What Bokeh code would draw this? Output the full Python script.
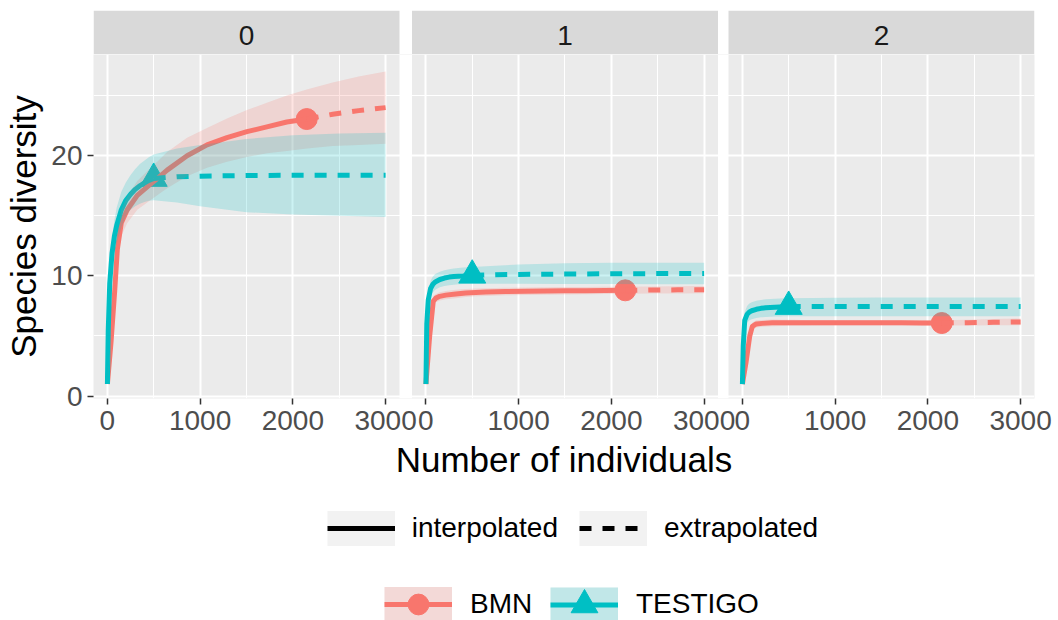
from bokeh.plotting import figure
from bokeh.models import Range1d, FixedTicker, BoxAnnotation, Label, Legend, LegendItem
from bokeh.layouts import column
from bokeh.embed import file_html
from bokeh.resources import INLINE

FONT = "Liberation Sans"
RED = "#F8766D"
TEAL = "#00BFC4"

# ---------------- data ----------------
panel_labels = ["0", "1", "2"]
site_names = ["BMN", "TESTIGO"]
x_tick_values = [0, 1000, 2000, 3000]
x_minor_values = [500, 1500, 2500]
y_tick_values = [0, 10, 20]
y_minor_values = [5, 15, 25]
legend_line_labels = ["interpolated", "extrapolated"]
x_title = "Number of individuals"
y_title = "Species diversity"

bmn_m_int = [1, 40, 80, 108, 150, 215, 323, 430, 538, 645, 860, 1075, 1290, 1505, 1720, 1935, 2150]
bmn_m_ext = [2150, 2430, 2710, 3000]
tes_m_int = [1, 10, 26, 51, 76, 101, 151, 201, 251, 301, 351, 401, 451, 500]
tes_m_ext = [500, 750, 1000, 1500, 2000, 2500, 3000]

bmn_q0_int = [1.0, 4.5, 8.8, 12.2, 14.4, 15.5, 16.7, 17.4, 18.1, 18.8, 20.0, 20.9, 21.5, 22.0, 22.4, 22.8, 23.05]
bmn_q0_ext = [23.05, 23.45, 23.75, 24.0]
bmn_q0_lo = [1.0, 4.1, 8.1, 11.2, 13.3, 14.4, 15.5, 16.1, 16.7, 17.3, 18.3, 19.0, 19.5, 19.9, 20.2, 20.4, 20.6, 20.8, 20.9, 21.0]
bmn_q0_hi = [1.0, 4.9, 9.5, 13.2, 15.5, 16.6, 17.9, 18.7, 19.5, 20.3, 21.5, 22.3, 23.1, 23.8, 24.4, 25.0, 25.5, 26.1, 26.6, 27.0]

bmn_q1_int = [1.0, 4.9, 7.9, 8.15, 8.3, 8.4, 8.5, 8.58, 8.62, 8.66, 8.7, 8.73, 8.75, 8.76, 8.77, 8.79, 8.8]
bmn_q1_ext = [8.8, 8.82, 8.84, 8.85]
bmn_q1_lo = [1.0, 4.6, 7.5, 7.8, 7.95, 8.05, 8.15, 8.25, 8.3, 8.33, 8.38, 8.41, 8.44, 8.46, 8.48, 8.5, 8.52, 8.53, 8.54, 8.55]
bmn_q1_hi = [1.0, 5.2, 8.3, 8.5, 8.65, 8.75, 8.85, 8.92, 8.95, 8.98, 9.01, 9.04, 9.06, 9.07, 9.08, 9.09, 9.1, 9.12, 9.14, 9.15]

bmn_q2_int = [1.0, 2.8, 5.0, 5.8, 6.0, 6.05, 6.1, 6.1, 6.1, 6.1, 6.1, 6.1, 6.1, 6.1, 6.1, 6.09, 6.08]
bmn_q2_ext = [6.08, 6.11, 6.14, 6.17]
bmn_q2_lo = [1.0, 2.6, 4.7, 5.5, 5.7, 5.76, 5.82, 5.84, 5.85, 5.86, 5.87, 5.87, 5.87, 5.87, 5.87, 5.87, 5.87, 5.88, 5.89, 5.9]
bmn_q2_hi = [1.0, 3.0, 5.3, 6.1, 6.3, 6.34, 6.38, 6.36, 6.35, 6.34, 6.33, 6.33, 6.32, 6.32, 6.32, 6.31, 6.3, 6.36, 6.42, 6.46]

tes_q0_int = [1.0, 5.5, 9.4, 11.9, 13.3, 14.2, 15.5, 16.3, 16.8, 17.2, 17.5, 17.75, 17.95, 18.1]
tes_q0_ext = [18.1, 18.25, 18.3, 18.35, 18.37, 18.37, 18.37]
tes_q0_lo = [1.0, 5.0, 8.5, 10.7, 11.9, 12.7, 14.0, 15.0, 15.5, 15.8, 16.0, 16.15, 16.25, 16.3, 16.1, 15.8, 15.3, 15.1, 15.0, 14.9]
tes_q0_hi = [1.0, 6.0, 10.2, 13.0, 14.6, 15.7, 17.0, 17.8, 18.4, 18.9, 19.3, 19.6, 19.9, 20.1, 20.6, 20.9, 21.4, 21.7, 21.85, 21.9]

tes_q1_int = [1.0, 6.0, 8.0, 8.95, 9.3, 9.5, 9.7, 9.82, 9.9, 9.95, 9.98, 10.0, 10.03, 10.05]
tes_q1_ext = [10.05, 10.1, 10.12, 10.15, 10.18, 10.19, 10.2]
tes_q1_lo = [1.0, 5.5, 7.4, 8.3, 8.65, 8.85, 9.05, 9.15, 9.22, 9.27, 9.3, 9.32, 9.34, 9.35, 9.35, 9.35, 9.33, 9.32, 9.31, 9.3]
tes_q1_hi = [1.0, 6.5, 8.6, 9.6, 9.95, 10.15, 10.35, 10.48, 10.56, 10.62, 10.66, 10.7, 10.73, 10.75, 10.85, 10.95, 11.05, 11.1, 11.1, 11.1]

tes_q2_int = [1.0, 4.2, 6.3, 6.8, 7.0, 7.1, 7.22, 7.3, 7.35, 7.38, 7.4, 7.42, 7.44, 7.45]
tes_q2_ext = [7.45, 7.45, 7.45, 7.45, 7.45, 7.46, 7.46]
tes_q2_lo = [1.0, 3.8, 5.6, 6.1, 6.3, 6.4, 6.5, 6.55, 6.58, 6.6, 6.62, 6.63, 6.64, 6.65, 6.65, 6.65, 6.65, 6.65, 6.65, 6.65]
tes_q2_hi = [1.0, 4.6, 7.0, 7.5, 7.7, 7.8, 7.93, 8.0, 8.05, 8.08, 8.1, 8.12, 8.14, 8.15, 8.17, 8.18, 8.2, 8.2, 8.2, 8.2]

# ---------------- layout constants ----------------
X0, X1 = -149.0, 3150.0          # ggplot-expanded x limits of one panel
PANEL_PX = 306.0
FRAME_W = 941.0
SCALE = PANEL_PX / (X1 - X0)      # px per unit
OFFS = [0, 3434, 6846]            # panel offsets (in x units) inside the shared frame
X_START = X0
X_END = X0 + FRAME_W / SCALE
Y_START, Y_END = -0.2, 28.42
BORDERS = dict(min_border_left=93, min_border_right=24)

sites = {
    "BMN": dict(color=RED, marker="circle", size=21, m_int=bmn_m_int, m_ext=bmn_m_ext,
                q=[(bmn_q0_int, bmn_q0_ext, bmn_q0_lo, bmn_q0_hi),
                   (bmn_q1_int, bmn_q1_ext, bmn_q1_lo, bmn_q1_hi),
                   (bmn_q2_int, bmn_q2_ext, bmn_q2_lo, bmn_q2_hi)]),
    "TESTIGO": dict(color=TEAL, marker="triangle", size=27, m_int=tes_m_int, m_ext=tes_m_ext,
                    q=[(tes_q0_int, tes_q0_ext, tes_q0_lo, tes_q0_hi),
                       (tes_q1_int, tes_q1_ext, tes_q1_lo, tes_q1_hi),
                       (tes_q2_int, tes_q2_ext, tes_q2_lo, tes_q2_hi)]),
}

# ---------------- facet strips ----------------
st = figure(width=1058, height=54, x_range=Range1d(X_START, X_END), y_range=Range1d(0, 1),
            output_backend="svg", toolbar_location=None, title=None,
            x_axis_location=None, y_axis_location=None,
            min_border_top=10, min_border_bottom=0, **BORDERS)
st.outline_line_color = None
st.background_fill_color = "white"
st.grid.visible = False
for k, o in enumerate(OFFS):
    st.add_layout(BoxAnnotation(left=X0 + o, right=X1 + o, fill_color="#D9D9D9",
                                fill_alpha=1, line_color=None))
    st.add_layout(Label(x=(X0 + X1) / 2 + o, y=0.43, text=panel_labels[k], text_align="center",
                        text_baseline="middle", text_font=FONT, text_font_size="28px",
                        text_color="#1A1A1A"))

# ---------------- panels ----------------
p = figure(width=1058, height=436, x_range=Range1d(X_START, X_END), y_range=Range1d(Y_START, Y_END),
           output_backend="svg", toolbar_location=None, title=None,
           min_border_top=0, min_border_bottom=92, **BORDERS)
p.extra_x_ranges = {f"p{k}": Range1d(X_START - o, X_END - o) for k, o in enumerate(OFFS)}
p.background_fill_color = "#EBEBEB"
p.border_fill_color = "white"
p.outline_line_color = None

p.xaxis.ticker = FixedTicker(ticks=[t + o for o in OFFS for t in x_tick_values],
                             minor_ticks=[t + o for o in OFFS for t in x_minor_values])
p.xaxis.major_label_overrides = {t + o: str(t) for o in OFFS for t in x_tick_values}
p.yaxis.ticker = FixedTicker(ticks=y_tick_values, minor_ticks=y_minor_values)
p.xaxis.axis_label = x_title
p.yaxis.axis_label = y_title

for g in p.grid:
    g.grid_line_color = "white"
    g.grid_line_width = 2
    g.minor_grid_line_color = "white"
    g.minor_grid_line_width = 1

for ax in p.axis:
    ax.axis_line_color = None
    ax.major_tick_line_color = "#333333"
    ax.major_tick_line_width = 1.5
    ax.major_tick_out = 6
    ax.major_tick_in = 0
    ax.minor_tick_line_color = None
    ax.major_label_text_font = FONT
    ax.major_label_text_font_size = "28px"
    ax.major_label_text_color = "#4D4D4D"
    ax.axis_label_text_font = FONT
    ax.axis_label_text_font_size = "35px"
    ax.axis_label_text_font_style = "normal"
    ax.axis_label_text_color = "black"
p.xaxis.major_label_standoff = 6
p.xaxis.axis_label_standoff = 7
p.yaxis.major_label_standoff = 5
p.yaxis.axis_label_standoff = 5

# data layers per panel: points, lines, ribbons (ggiNEXT order)
for k in range(3):
    rn = f"p{k}"
    for name, s in sites.items():
        y_int = s["q"][k][0]
        p.scatter([s["m_int"][-1]], [y_int[-1]], marker=s["marker"], size=s["size"],
                  color=s["color"], x_range_name=rn)
    for name, s in sites.items():
        y_int, y_ext, lo, hi = s["q"][k]
        p.line(s["m_int"], y_int, line_color=s["color"], line_width=5, line_join="round", x_range_name=rn)
        p.line(s["m_ext"], y_ext, line_color=s["color"], line_width=5, line_dash="12 11", x_range_name=rn)
    for name, s in sites.items():
        y_int, y_ext, lo, hi = s["q"][k]
        m_all = s["m_int"] + s["m_ext"][1:]
        p.varea(x=m_all, y1=lo, y2=hi, fill_color=s["color"], fill_alpha=0.2, x_range_name=rn)

# white gaps between panels
for k in range(2):
    p.add_layout(BoxAnnotation(left=X1 + OFFS[k], right=X0 + OFFS[k + 1], fill_color="white",
                               fill_alpha=1, line_color=None))

# ---------------- legend figure ----------------
lg = figure(width=1058, height=130, x_range=Range1d(0, 1), y_range=Range1d(0, 1),
            output_backend="svg", toolbar_location=None, title=None,
            x_axis_location=None, y_axis_location=None, min_border_top=0, min_border_bottom=0,
            **BORDERS)
lg.outline_line_color = None
lg.grid.visible = False

# key renderers (their single point lies outside the visible range; only the legend shows them)
KX, KY = [2, 3], [2, 2]
key_bg = lg.line(KX, KY, line_color="#F2F2F2", line_width=35)
solid = lg.line(KX, KY, line_color="black", line_width=5)
dashed = lg.line(KX, KY, line_color="black", line_width=5, line_dash="12 11")

common = dict(orientation="horizontal", padding=0, margin=0, border_line_color=None,
              background_fill_alpha=0, label_text_font=FONT, label_text_font_size="28px",
              label_text_color="black", glyph_width=68)

leg1 = Legend(items=[LegendItem(label=legend_line_labels[0], renderers=[key_bg, solid]),
                     LegendItem(label=legend_line_labels[1], renderers=[key_bg, dashed])],
              location=(233.7, 70.5), glyph_height=44, label_standoff=17, spacing=21, **common)
lg.add_layout(leg1)

site_legend_pos = {"BMN": ((291, -10), 52), "TESTIGO": ((457, -17.5), 67)}
for name, s in sites.items():
    tint = lg.line(KX, KY, line_color=s["color"], line_alpha=0.2, line_width=35)
    ln = lg.line(KX, KY, line_color=s["color"], line_width=5)
    mk = lg.scatter(KX[:1], KY[:1], marker=s["marker"], color=s["color"])
    loc, gh = site_legend_pos[name]
    lg.add_layout(Legend(items=[LegendItem(label=name, renderers=[key_bg, tint, ln, mk])],
                         location=loc, glyph_height=gh, label_standoff=18, spacing=0, **common))

layout = column(st, p, lg, spacing=0)
open("out.html", "w").write(file_html(layout, INLINE))
